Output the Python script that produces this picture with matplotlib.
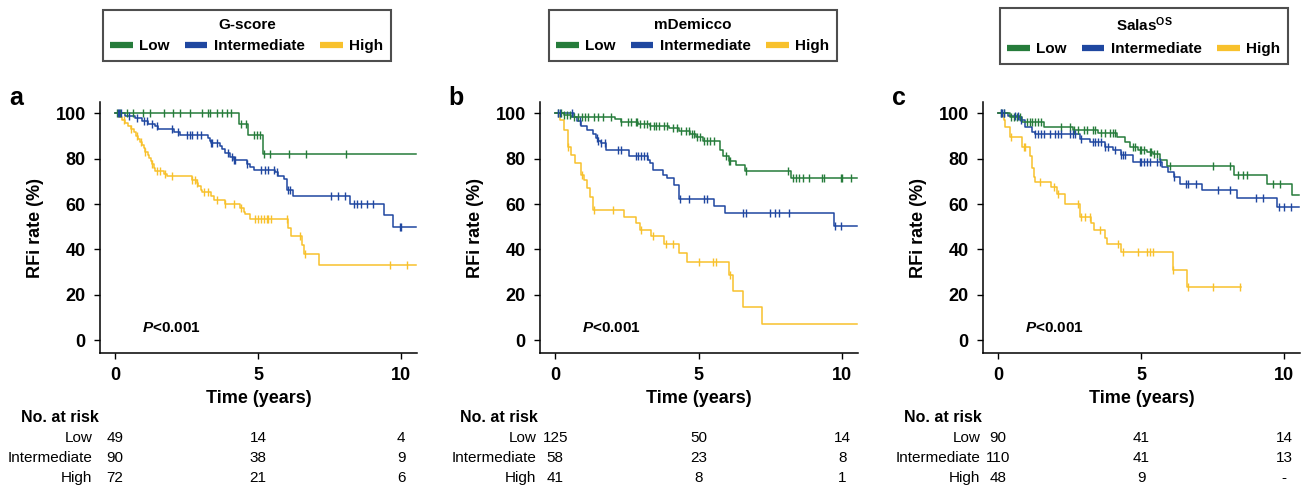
import matplotlib
matplotlib.use("Agg")
import matplotlib.pyplot as plt
from matplotlib.lines import Line2D
import numpy as np

plt.rcParams['font.family'] = ['Liberation Sans', 'DejaVu Sans']
plt.rcParams['mathtext.fontset'] = 'custom'
plt.rcParams['mathtext.rm'] = 'Liberation Sans'
plt.rcParams['mathtext.it'] = 'Liberation Sans:italic:bold'
plt.rcParams['mathtext.bf'] = 'Liberation Sans:bold'

GREEN = '#267c3b'
BLUE = '#1f47a0'
YELLOW = '#f8c12c'
groups = ["Low", "Intermediate", "High"]
titles = ["G-score", "mDemicco", r"Salas$^{\mathregular{OS}}$"]
letters = ["a", "b", "c"]

# ---- panel a: G-score ----
a_low_t = [0, 4.34, 4.66, 5.17]
a_low_s = [100, 95.3, 90.5, 82.2]
a_low_c = [0.05, 0.17, 0.41, 0.64, 0.99, 1.22, 1.69, 2.02, 2.27, 2.6, 3.03, 3.26, 3.32, 3.55,
           3.73, 3.9, 4.04, 4.39, 4.58, 4.84, 4.95, 5.07, 5.21, 5.42, 6.06, 6.67, 8.07]
a_int_t = [0, 0.35, 0.7, 0.95, 1.15, 1.4, 1.5, 2.05, 2.25, 3.25, 3.3, 3.35, 3.65, 3.75, 3.85,
           4.0, 4.15, 4.6, 4.7, 4.85, 5.6, 5.7, 5.9, 6.0, 6.2, 8.2, 9.4, 9.7]
a_int_s = [100, 98.9, 97.8, 96.6, 95.5, 94.3, 93.0, 91.9, 90.6, 89.3, 88.0, 87.0, 85.5, 84.3, 82.5,
           80.8, 79.3, 77.8, 76.5, 75.2, 74.0, 72.5, 70.9, 66.0, 63.4, 60.2, 55.0, 50.0]
a_int_c = [0.1, 0.15, 0.2, 0.5, 0.75, 1.0, 1.1, 1.3, 1.45, 2.0, 2.2, 2.5, 2.6, 2.7, 2.85, 3.0,
           3.35, 3.4, 3.55, 3.95, 4.1, 4.15, 4.2, 4.6, 5.1, 5.25, 5.35, 5.55, 5.65, 6.05, 6.1,
           7.55, 7.8, 8.05, 8.35, 8.45, 8.6, 8.8, 9.0, 9.95, 10.0]
a_high_t = [0, 0.15, 0.25, 0.35, 0.45, 0.55, 0.65, 0.72, 0.8, 0.88, 0.95, 1.0, 1.05, 1.15, 1.2,
            1.25, 1.3, 1.35, 1.4, 1.7, 1.8, 2.7, 2.85, 2.9, 3.0, 3.05, 3.35, 3.45, 3.85, 4.35,
            4.5, 4.55, 4.7, 6.05, 6.15, 6.53, 6.6, 7.13]
a_high_s = [100, 98.6, 97.2, 95.8, 94.4, 93.0, 91.6, 90.2, 88.8, 87.4, 86.0, 84.5, 83.1, 81.7, 80.3,
            78.9, 77.5, 76.0, 74.6, 73.2, 72.2, 70.8, 69.4, 67.8, 66.3, 65.4, 63.5, 61.9, 60.0, 58.3,
            56.5, 55.5, 53.6, 49.5, 46.0, 42.0, 38.0, 33.1]
a_high_c = [0.3, 0.55, 0.75, 0.9, 1.05, 1.3, 1.45, 1.55, 1.75, 2.0, 2.7, 2.8, 2.85, 3.1, 3.25,
            3.55, 3.85, 4.15, 4.4, 4.9, 5.0, 5.1, 5.2, 5.3, 5.35, 5.45, 6.0, 6.45, 6.65, 9.6, 10.2]

# ---- panel b: mDemicco ----
b_low_t = [0, 0.3, 0.55, 2.1, 2.3, 2.9, 3.3, 3.95, 4.3, 4.7, 4.9, 5.15, 5.75, 5.85, 6.05,
           6.3, 6.6, 8.2]
b_low_s = [100, 99.3, 98.6, 97.4, 96.3, 95.3, 94.5, 93.4, 92.4, 91.0, 89.6, 87.8, 84.0, 81.0, 78.8,
           77.3, 74.6, 71.3]
b_low_c = [0.1, 0.2, 0.3, 0.4, 0.5, 0.65, 0.8, 0.95, 1.05, 1.15, 1.35, 1.5, 1.65, 1.95, 2.3, 2.55,
           2.65, 2.8, 2.85, 2.95, 3.1, 3.2, 3.3, 3.45, 3.5, 3.6, 3.8, 3.9, 4.1, 4.25, 4.4, 4.55,
           4.65, 4.75, 4.85, 4.95, 5.05, 5.2, 5.3, 5.4, 5.55, 5.95, 6.05, 6.1, 6.65, 8.1, 8.3,
           8.4, 8.5, 8.65, 8.85, 9.3, 9.35, 9.95, 10.0, 10.3]
b_int_t = [0, 0.65, 0.77, 0.9, 1.1, 1.3, 1.42, 1.5, 1.6, 1.77, 2.58, 3.22, 3.3, 3.4, 3.75, 3.9,
           4.15, 4.33, 5.55, 5.93, 9.73]
b_int_s = [100, 98.3, 96.5, 94.4, 92.8, 91.0, 89.0, 87.8, 86.8, 83.8, 81.4, 79.5, 77.9, 75.0, 73.0,
           71.4, 68.4, 62.2, 59.3, 55.9, 50.3]
b_int_c = [0.1, 0.15, 0.6, 0.85, 1.45, 1.5, 1.6, 1.75, 2.2, 2.3, 2.8, 2.9, 3.0, 3.1, 3.2, 4.35,
           4.65, 5.2, 5.3, 6.55, 6.65, 7.5, 7.65, 7.8, 8.15, 9.75, 9.95]
b_high_t = [0, 0.15, 0.31, 0.44, 0.55, 0.69, 0.9, 1.02, 1.1, 1.2, 1.3, 2.41, 2.8, 2.95, 3.35,
            3.8, 4.3, 4.6, 6.05, 6.2, 6.55, 7.2]
b_high_s = [100, 97.0, 92.6, 85.3, 81.5, 78.0, 72.8, 70.6, 67.0, 63.3, 57.3, 54.4, 51.5, 48.7,
            45.7, 42.5, 38.5, 34.5, 28.8, 21.7, 14.5, 7.2]
b_high_c = [0.45, 0.95, 1.35, 2.0, 3.0, 3.4, 3.85, 4.1, 5.0, 5.5, 5.6, 6.1]

# ---- panel c: Salas OS ----
c_low_t = [0, 0.4, 0.85, 1.6, 2.63, 3.5, 4.15, 4.45, 4.6, 4.9, 5.2, 5.4, 5.66, 5.9, 8.23, 9.4,
           10.28]
c_low_s = [100, 98.5, 96.3, 94.1, 92.6, 91.2, 89.4, 87.5, 85.3, 83.8, 83.1, 82.0, 79.4, 76.8,
           72.8, 68.8, 64.0]
c_low_c = [0.1, 0.2, 0.45, 0.55, 0.65, 0.75, 1.0, 1.1, 1.2, 1.3, 1.4, 1.5, 2.2, 2.5, 2.65, 2.8,
           3.0, 3.1, 3.3, 3.4, 3.6, 3.75, 3.9, 4.0, 4.1, 4.7, 4.8, 4.95, 5.0, 5.1, 5.3, 5.35,
           5.45, 5.55, 6.0, 7.5, 8.1, 8.4, 8.55, 8.7, 9.6, 9.85]
c_int_t = [0, 0.35, 0.77, 0.94, 1.18, 1.3, 2.87, 3.2, 3.74, 4.0, 4.3, 4.7, 5.72, 5.95, 6.13,
           6.36, 7.12, 8.34, 9.74]
c_int_s = [100, 98.8, 97.1, 94.1, 91.9, 90.7, 88.9, 87.5, 85.3, 83.8, 81.6, 78.7, 76.5, 74.3,
           72.0, 69.0, 66.2, 62.5, 58.5]
c_int_c = [0.1, 0.15, 0.2, 0.6, 0.7, 0.8, 1.3, 1.4, 1.5, 1.6, 1.8, 2.0, 2.1, 2.2, 2.5, 2.6, 2.7,
           2.9, 3.3, 3.4, 3.5, 3.6, 3.75, 3.85, 4.1, 4.3, 4.35, 4.45, 4.95, 5.0, 5.1, 5.2, 5.3,
           5.55, 5.65, 6.15, 6.55, 6.65, 6.9, 7.7, 8.1, 9.0, 9.25, 9.8, 10.0, 10.25]
c_high_t = [0, 0.2, 0.25, 0.4, 0.85, 1.1, 1.2, 1.25, 1.3, 1.85, 2.05, 2.35, 2.85, 3.25, 3.35,
            3.75, 3.8, 4.3, 6.1, 6.6]
c_high_s = [100, 97.0, 94.0, 89.5, 85.3, 81.0, 76.0, 72.0, 69.8, 67.3, 64.5, 59.8, 54.5, 51.5,
            48.7, 45.0, 42.4, 38.8, 30.8, 23.3]
c_high_c = [0.45, 0.9, 0.95, 1.45, 1.95, 2.1, 2.8, 2.9, 3.05, 3.2, 3.55, 4.2, 4.35, 4.9, 5.2,
            5.3, 5.4, 6.1, 6.65, 7.5, 8.45]

ends = [[10.5, 10.5, 10.5], [10.5, 10.5, 10.5], [10.5, 10.5, 8.5]]

# numbers at risk at 0, 5, 10 years
risk_a = [[49, 14, 4], [90, 38, 9], [72, 21, 6]]
risk_b = [[125, 50, 14], [58, 23, 8], [41, 8, 1]]
risk_c = [[90, 41, 14], [110, 41, 13], [48, 9, "-"]]
risk_times = [0, 5, 10]

panels = [
    [(a_low_t, a_low_s, a_low_c), (a_int_t, a_int_s, a_int_c), (a_high_t, a_high_s, a_high_c)],
    [(b_low_t, b_low_s, b_low_c), (b_int_t, b_int_s, b_int_c), (b_high_t, b_high_s, b_high_c)],
    [(c_low_t, c_low_s, c_low_c), (c_int_t, c_int_s, c_int_c), (c_high_t, c_high_s, c_high_c)],
]
risks = [risk_a, risk_b, risk_c]
colors = [GREEN, BLUE, YELLOW]

W, H = 1307, 490
fig = plt.figure(figsize=(W / 100, H / 100), dpi=100)

ax_left = [100, 540, 983]
ax_right = [417, 858, 1300]
ax_top, ax_bot = 102, 353
label_off = [-0.8, -0.66, -0.62]
leg_center = [247, 693, 1144]
leg_top = [10, 10, 8]


def ypos(py):
    # figure pixel row -> axes fraction
    return (ax_bot - py) / (ax_bot - ax_top)


for i in range(3):
    ax = fig.add_axes([ax_left[i] / W, 1 - ax_bot / H,
                       (ax_right[i] - ax_left[i]) / W, (ax_bot - ax_top) / H])
    for j, (t, s, c) in enumerate(panels[i]):
        tt = list(t) + [ends[i][j]]
        ss = list(s) + [s[-1]]
        ax.step(tt, ss, where='post', color=colors[j], lw=1.1, zorder=3 - j * 0.1)
        idx = np.searchsorted(t, c, side='right') - 1
        ax.plot(c, np.array(s)[idx], ls='none', marker='|', ms=6, mew=1.0,
                color=colors[j], zorder=3)

    ax.set_xlim(-0.53, 10.55)
    ax.set_ylim(-5.7, 105)
    ax.set_xticks([0, 5, 10])
    ax.set_yticks([0, 20, 40, 60, 80, 100])
    ax.spines[['top', 'right']].set_visible(False)
    for sp in ['left', 'bottom']:
        ax.spines[sp].set_linewidth(1.1)
    ax.tick_params(direction='out', length=4.3, width=1.0, pad=6, labelsize=13)
    for lab in ax.get_xticklabels() + ax.get_yticklabels():
        lab.set_fontweight('bold')
    ax.set_xlabel("Time (years)", fontsize=13, fontweight='bold', labelpad=4)
    ax.set_ylabel("RFi rate (%)", fontsize=13, fontweight='bold', labelpad=8)
    ax.text(0.95, 5.3, r"$\mathit{P}$<0.001", fontsize=11, fontweight='bold', va='center')
    ax.text(-0.287, 1.015, letters[i], transform=ax.transAxes, fontsize=18,
            fontweight='bold', ha='left', va='center')

    # risk table
    tr = ax.get_xaxis_transform()
    ax.text(-3.3, ypos(417), "No. at risk", transform=tr, fontsize=11.5,
            fontweight='bold', ha='left', va='center')
    for j, g in enumerate(groups):
        ax.text(label_off[i], ypos(438 + 20 * j), g, transform=tr, fontsize=11,
                ha='right', va='center')
        for k, tk in enumerate(risk_times):
            ax.text(tk, ypos(438 + 20 * j), str(risks[i][j][k]), transform=tr,
                    fontsize=11, ha='center', va='center')

    handles = [Line2D([], [], color=col, lw=4.5, solid_capstyle='butt') for col in colors]
    leg = ax.legend(handles, groups, title=titles[i], ncol=3, loc='upper center',
                    bbox_to_anchor=(leg_center[i] / W, 1 - leg_top[i] / H),
                    bbox_transform=fig.transFigure, borderaxespad=0, frameon=True,
                    fancybox=False, edgecolor='#222222', handlelength=1.45,
                    handletextpad=0.45, columnspacing=1.0, borderpad=0.5,
                    prop={'size': 11, 'weight': 'bold'},
                    title_fontproperties={'size': 11, 'weight': 'bold'})
    leg.get_frame().set_linewidth(1.5)

fig.savefig("out.png", dpi=100)
